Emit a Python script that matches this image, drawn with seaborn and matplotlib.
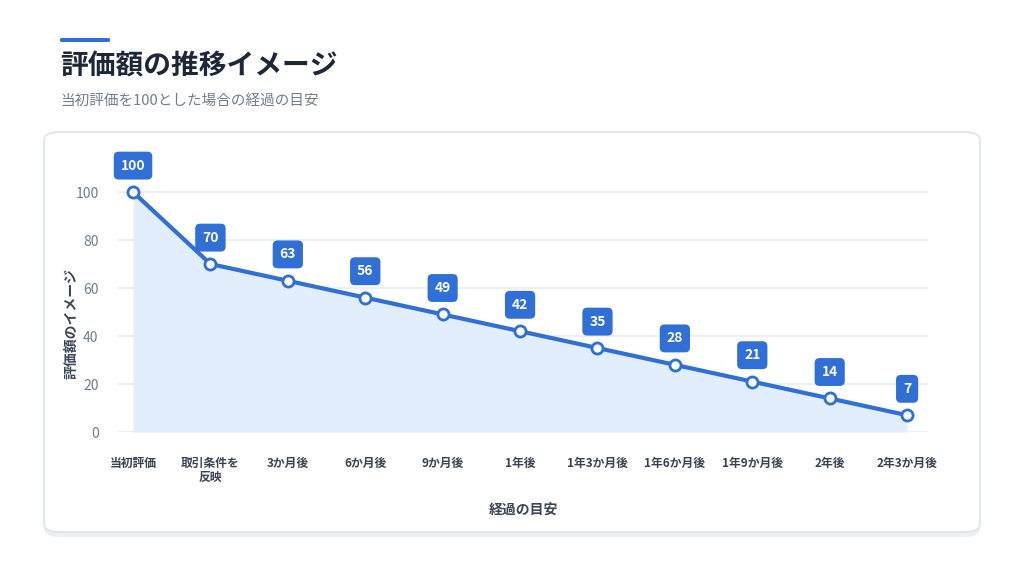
import pandas as pd
import seaborn as sns
import matplotlib.pyplot as plt
from matplotlib.patches import FancyBboxPatch

# データ
categories = ['当初評価', '取引条件を\n反映', '3か月後', '6か月後', '9か月後', '1年後',
              '1年3か月後', '1年6か月後', '1年9か月後', '2年後', '2年3か月後']
values = [100, 70, 63, 56, 49, 42, 35, 28, 21, 14, 7]
yticks = [0, 20, 40, 60, 80, 100]

title = '評価額の推移イメージ'
subtitle = '当初評価を100とした場合の経過の目安'
xlabel = '経過の目安'
ylabel = '評価額のイメージ'

blue = '#2f6fd6'
fill_blue = '#e3eefc'

sns.set_style('white')
plt.rcParams['font.family'] = ['Noto Sans CJK JP', 'DejaVu Sans']

df = pd.DataFrame({'x': range(len(categories)), 'y': values})

fig = plt.figure(figsize=(10.24, 5.76), dpi=100)

# カード背景と影
shadow = FancyBboxPatch((44 / 1024, 1 - 537 / 576), 936 / 1024, 402 / 576,
                        boxstyle='round,pad=0,rounding_size=0.015',
                        transform=fig.transFigure, facecolor='#eceff4',
                        edgecolor='none', zorder=0)
card = FancyBboxPatch((44 / 1024, 1 - 532 / 576), 936 / 1024, 400 / 576,
                      boxstyle='round,pad=0,rounding_size=0.015',
                      transform=fig.transFigure, facecolor='white',
                      edgecolor='#dde3ec', linewidth=1.2, zorder=1)
fig.patches.extend([shadow, card])

# タイトル
fig.patches.append(FancyBboxPatch((60 / 1024, 1 - 42 / 576), 50 / 1024, 4 / 576,
                                  boxstyle='round,pad=0,rounding_size=0.002',
                                  transform=fig.transFigure, facecolor=blue,
                                  edgecolor='none', zorder=2))
fig.text(60 / 1024, 1 - 66 / 576, title, fontsize=20, fontweight='bold',
         color='#1e2736', va='center', ha='left')
fig.text(60 / 1024, 1 - 101 / 576, subtitle, fontsize=10.5, color='#707c8f',
         va='center', ha='left')

ax = fig.add_axes([118 / 1024, 1 - 432 / 576, 810 / 1024, 264 / 576])
ax.set_facecolor('none')
ax.set_zorder(3)

ax.fill_between(df['x'], df['y'], 0, color=fill_blue, linewidth=0, zorder=1)
sns.lineplot(data=df, x='x', y='y', ax=ax, color=blue, linewidth=3, zorder=3,
             marker='o', markersize=8, markerfacecolor='white',
             markeredgecolor=blue, markeredgewidth=2)

for xi, yi in zip(df['x'], df['y']):
    ax.annotate(str(yi), (xi, yi), xytext=(0, 19), textcoords='offset points',
                ha='center', va='center', fontsize=10, fontweight='bold',
                color='white', zorder=5, annotation_clip=False,
                bbox=dict(boxstyle='round,pad=0.5,rounding_size=0.35',
                          facecolor=blue, edgecolor='none'))

ax.set_xlim(-0.194, 10.27)
ax.set_ylim(0, 110)
ax.set_yticks(yticks)
ax.set_xticks(range(len(categories)))
ax.set_xticklabels(categories, fontsize=8.5, fontweight='bold', color='#3a4252',
                   linespacing=1.1)
ax.tick_params(axis='y', labelsize=10, labelcolor='#707c8f', length=0, pad=14)
ax.tick_params(axis='x', length=0, pad=18)

ax.grid(axis='y', color='#e8edf4', linewidth=1.2)
ax.grid(axis='x', visible=False)
sns.despine(ax=ax, left=True, bottom=True)

ax.set_xlabel(xlabel, fontsize=10, fontweight='bold', color='#3a4556')
ax.set_ylabel(ylabel, fontsize=10, fontweight='bold', color='#3a4556')
ax.xaxis.set_label_coords(0.5, -0.266)
ax.yaxis.set_label_coords(-0.049, 0.41)

fig.savefig('out.png', dpi=100)
